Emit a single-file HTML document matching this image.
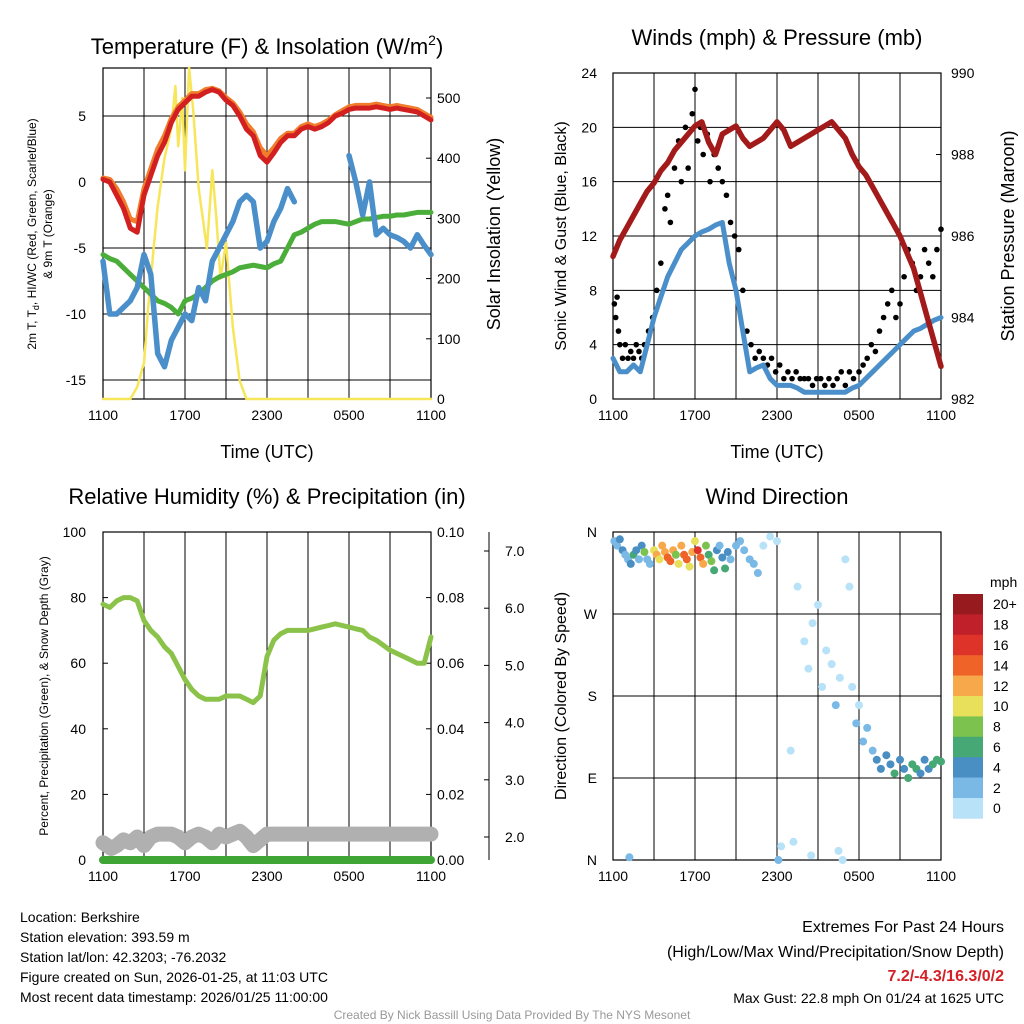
<!DOCTYPE html>
<html><head><meta charset="utf-8">
<style>
body{margin:0;background:#fff;}
svg{display:block;font-family:"Liberation Sans",sans-serif;}
</style></head>
<body>
<svg id="c" width="1024" height="1024" viewBox="0 0 1024 1024" xmlns="http://www.w3.org/2000/svg"></svg>
<script>
// ---- Data ----
const hours = [0,0.5,1,1.5,2,2.5,3,3.5,4,4.5,5,5.5,6,6.5,7,7.5,8,8.5,9,9.5,10,10.5,11,11.5,12,12.5,13,13.5,14,14.5,15,15.5,16,16.5,17,17.5,18,18.5,19,19.5,20,20.5,21,21.5,22,22.5,23,23.5,24];
const tempRed = [0.2,0,-1,-2,-3.5,-3.8,-1,0.5,2,3,4.5,5.5,6,6.5,6.5,6.8,7,6.8,6.2,5.8,5,4,3.5,2,1.5,2.2,3,3.5,3.5,4,4.2,4,4.2,4.5,5,5.2,5.5,5.6,5.6,5.6,5.7,5.6,5.5,5.6,5.5,5.4,5.3,5,4.7];
const tempOrange = [0.3,0.2,-0.5,-1.5,-2.8,-3,-0.5,1,2.5,3.5,4.8,5.7,6.2,6.7,6.7,7,7.1,6.9,6.4,6,5.3,4.4,3.8,2.6,2,2.6,3.3,3.7,3.7,4.2,4.4,4.2,4.4,4.7,5.1,5.4,5.7,5.8,5.8,5.8,5.9,5.8,5.7,5.8,5.7,5.6,5.5,5.2,4.9];
const dewGreen = [-5.5,-5.8,-6,-6.5,-7,-7.5,-8,-8.5,-9,-9.2,-9.5,-10,-9,-8.8,-8.5,-8,-7.5,-7.2,-7,-6.8,-6.5,-6.4,-6.3,-6.4,-6.5,-6.2,-6,-5,-4,-3.8,-3.5,-3.2,-3,-3,-3,-3.1,-3.2,-3,-2.8,-2.8,-2.7,-2.6,-2.6,-2.5,-2.5,-2.4,-2.3,-2.3,-2.3];
const chillBlue = [-6,-10,-10,-9.5,-9,-8,-5.5,-7,-13,-14,-12,-11,-10,-10.5,-8,-9,-6,-5,-4,-3,-1.5,-1,-1.5,-5,-4.5,-3,-2,-0.5,-1.5,null,null,null,null,null,null,null,2,0,-2.5,0,-4,-3.5,-4,-4.2,-4.5,-5,-4,-4.8,-5.5];
const insolHours = [0,2,2.5,3,3.3,3.7,4,4.5,5,5.3,5.5,5.8,6,6.3,6.6,7,7.3,7.6,8,8.3,8.6,9,9.5,10,10.5,24];
const insolation = [0,0,20,60,150,250,320,400,450,520,420,500,380,550,480,350,300,250,380,300,200,260,120,30,0,0];
const pressure = [985.5,985.9,986.2,986.5,986.8,987.1,987.3,987.6,987.8,988.1,988.3,988.5,988.7,988.8,988.3,988,988.5,988.6,988.7,988.4,988.2,988.3,988.4,988.6,988.8,988.6,988.2,988.3,988.4,988.5,988.6,988.7,988.8,988.6,988.4,988,987.7,987.5,987.2,986.9,986.6,986.3,986,985.6,985.2,984.6,984,983.4,982.8];
const windSpeed = [3,2,2,2.5,2,4,6,7.5,9,10,11,11.5,12,12.3,12.5,12.8,13,10,8,5,2,2.3,2.5,1.5,1,1,1,0.8,0.5,0.5,0.5,0.5,0.5,0.5,0.5,0.8,1,1.5,2,2.5,3,3.5,4,4.5,5,5.2,5.5,5.8,6];
const gustHours = [0.1,0.2,0.3,0.4,0.5,0.7,0.9,1.1,1.3,1.5,1.7,1.9,2.1,2.3,2.6,2.9,3.2,3.5,3.8,4,4.2,4.5,4.8,5,5.3,5.5,5.8,6,6.2,6.4,6.6,6.9,7.1,7.4,7.7,8,8.3,8.6,8.9,9.2,9.5,9.8,10.1,10.4,10.7,11,11.3,11.6,11.9,12.2,12.5,12.8,13.1,13.4,13.7,14,14.3,14.6,14.9,15.2,15.5,15.8,16.1,16.4,16.7,17,17.3,17.6,18,18.3,18.6,18.9,19.2,19.5,19.8,20.1,20.4,20.7,21,21.3,21.6,21.9,22.2,22.5,22.8,23.1,23.4,23.7,24];
const gusts = [7,6,7.5,5,4,3,4,3,3.5,3,4,3.5,3,4,5,6,8,10,14,15,13,17,19,16,20,17,21,22.8,19,20,18,19.5,16,18,17,16,15,13,12,11,8,5,4,3,3.5,3,2.5,3,2,2.5,1.5,2,1.5,2,1.5,1.5,1.5,1,1.5,1.5,1,1.5,1,1.5,2,1,2,1.5,2,2.5,3,4,3.5,5,6,7,8,6,7,9,11,10,8,9,11,10,9,11,12.5];
const rh = [78,77,79,80,80,79,73,70,68,65,63,59,55,52,50,49,49,49,50,50,50,49,48,50,62,67,69,70,70,70,70,70.5,71,71.5,72,71.5,71,70.5,70,68,67,65.5,64,63,62,61,60,60,68];
const snowHours = [0,0.3,0.6,1,1.5,2,2.5,3,3.5,4,5,5.5,6,6.5,7,7.5,8,8.5,9,9.5,10,10.5,11,11.5,12,13,24];
const snowDepth = [1.9,1.85,1.8,1.85,1.95,1.9,2.0,1.85,2.0,2.05,2.05,2.0,1.9,2.0,2.05,2.0,1.9,2.05,2.0,2.05,2.1,2.0,1.85,1.95,2.05,2.05,2.05];
const purpleHours = [3.0,3.2,6.1,12.6];
const purpleVals = [0.006,0.007,0.006,0.007];
const dirHours = [0.1,0.3,0.5,0.7,0.9,1.1,1.3,1.5,1.7,1.9,2.1,2.3,2.5,2.7,3,3.2,3.4,3.6,3.8,4,4.2,4.4,4.6,4.8,5,5.2,5.4,5.6,5.8,6,6.2,6.4,6.6,6.8,7,7.2,7.4,7.6,7.8,8,8.2,8.4,8.6,9,9.3,9.6,10,10.3,10.6,11,11.5,12,13,13.2,13.5,14,14.3,14.6,15,15.3,15.6,16,16.3,16.6,17,17.3,17.5,17.8,18,18.3,18.6,19,19.3,19.6,20,20.3,20.6,21,21.3,21.6,21.9,22.2,22.5,22.8,23.1,23.4,23.7,24,12.3,12.1,1.2,16.5,14.5,16.8];
const dirDeg = [350,345,352,340,335,330,325,335,340,330,345,338,330,325,340,335,330,345,338,332,328,340,335,325,345,335,330,322,338,350,340,332,325,345,335,328,318,340,345,332,320,338,330,345,350,340,330,325,315,345,355,350,120,20,300,240,210,260,280,190,230,215,170,200,330,300,190,150,170,130,145,120,110,100,115,105,95,110,100,90,105,100,95,110,100,105,110,108,15,0,3,10,5,0];
const dirSpeed = [3,2,4,4,2,3,4,6,4,2,5,8,3,2,10,12,11,12,13,14,15,12,9,10,13,15,14,11,12,10,16,15,13,8,7,9,6,5,3,4,6,5,3,2,2,3,2,3,2,1,1,1,1,1,1,1,1,1,0,1,1,0,2,1,1,1,1,2,1,2,3,3,4,4,5,4,6,5,4,6,7,6,4,5,4,6,6,6,1,2,2,1,1,1];
const timeTickLabels = ['1100','1700','2300','0500','1100'];
const cbLabels = ['20+','18','16','14','12','10','8','6','4','2','0'];
const cbColors = ['#971b1e','#c0202a','#dd3329','#ef6329','#f6a84a','#e8e05a','#7bc24e','#46a874','#4a8fc4','#7ab9e6','#b8e2f7'];

// ---- helpers ----
const svg = document.getElementById('c');
const NS = 'http://www.w3.org/2000/svg';
function mk(tag, attrs, parent){const e=document.createElementNS(NS,tag);for(const k in attrs)e.setAttribute(k,attrs[k]);(parent||svg).appendChild(e);return e;}
function txt(x,y,s,size,anchor,parent,rot){const t=mk('text',{x:x,y:y,'font-size':size,'text-anchor':anchor||'middle',fill:'#000'},parent);if(rot)t.setAttribute('transform','rotate('+rot+' '+x+' '+y+')');t.textContent=s;return t;}
function lin(d0,d1,r0,r1){return v=>r0+(v-d0)/(d1-d0)*(r1-r0);}
function poly(xs,ys,fx,fy,color,w,name){let segs=[],cur=[];for(let i=0;i<xs.length;i++){if(ys[i]==null){if(cur.length)segs.push(cur);cur=[];continue;}cur.push(fx(xs[i]).toFixed(1)+','+fy(ys[i]).toFixed(1));}if(cur.length)segs.push(cur);
 segs.forEach(s=>{const p=mk('polyline',{points:s.join(' '),fill:'none',stroke:color,'stroke-width':w,'stroke-linejoin':'round','stroke-linecap':'round'});
 
 });}
function frame(x0,y0,x1,y1,fx,name){
 const g=mk('g',{});
 
 
 for(let h=3;h<24;h+=3){mk('line',{x1:fx(h),x2:fx(h),y1:y0,y2:y1,stroke:'#000','stroke-width':1},g);}
 mk('rect',{x:x0,y:y0,width:x1-x0,height:y1-y0,fill:'none',stroke:'#000','stroke-width':1.2},g);
 timeTickLabels.forEach((l,i)=>{const x=fx(i*6);txt(x,y1+21,l,14,'middle',g);mk('line',{x1:x,x2:x,y1:y1,y2:y1-5,stroke:'#000'},g);});
 return g;}
function hgrid(g,vals,fy,x0,x1,grid){vals.forEach(v=>{const y=fy(v);mk('line',{x1:x0,x2:grid?x1:x0+5,y1:y,y2:y,stroke:'#000'},g);});}

// ===== Panel 1: Temperature =====
(function(){
 const x0=103,x1=431,y0=68,y1=399;
 const fx=lin(0,24,x0,x1), fy=lin(0,5,182,116), fr=lin(0,500,399,98);
 const g=frame(x0,y0,x1,y1,fx,'temperature-panel');
 const lt=[5,0,-5,-10,-15]; hgrid(g,lt,fy,x0,x1,true);
 lt.forEach(v=>txt(86,fy(v)+5,String(v),14,'end',g));
 [0,100,200,300,400,500].forEach(v=>{txt(437,fr(v)+5,String(v),14,'start',g);mk('line',{x1:x1,x2:x1-5,y1:fr(v),y2:fr(v),stroke:'#000'},g);});
 poly(insolHours,insolation,fx,fr,'#f7e55a',2.5,'insolation-line');
 poly(hours,dewGreen,fx,fy,'#4cae3a',5,'dewpoint-line');
 poly(hours,chillBlue,fx,fy,'#4a8fc9',5.5,'wind-chill-line');
 poly(hours,tempOrange,fx,fy,'#f07d2c',5,'9m-temp-line');
 poly(hours,tempRed,fx,fy,'#d22020',5,'2m-temp-line');
 const t=txt(267,54,'Temperature (F) & Insolation (W/m',22,'middle',g);
 
 const s=mk('tspan',{'font-size':14,dy:-9},t);s.textContent='2';
 const s2=mk('tspan',{dy:9},t);s2.textContent=')';
 txt(267,458,'Time (UTC)',18,'middle',g);
 const yl=txt(36,234,'2m T, T',12,'middle',g,-90);
 const sub=mk('tspan',{'font-size':9,dy:3},yl);sub.textContent='d';
 const r=mk('tspan',{dy:-3},yl);r.textContent=', HI/WC (Red, Green, Scarlet/Blue)';
 txt(52,234,'& 9m T (Orange)',12,'middle',g,-90);
 txt(500,234,'Solar Insolation (Yellow)',18,'middle',g,-90);
})();

// ===== Panel 2: Winds =====
(function(){
 const x0=613,x1=941,y0=73,y1=399;
 const fx=lin(0,24,x0,x1), fy=lin(0,24,y1,y0), fr=lin(982,990,y1,y0);
 const g=frame(x0,y0,x1,y1,fx,'winds-panel');
 const lt=[0,4,8,12,16,20,24]; hgrid(g,lt,fy,x0,x1,true);
 lt.forEach(v=>txt(597,fy(v)+5,String(v),14,'end',g));
 [982,984,986,988,990].forEach(v=>{txt(951,fr(v)+5,String(v),14,'start',g);mk('line',{x1:x1,x2:x1-5,y1:fr(v),y2:fr(v),stroke:'#000'},g);});
 poly(hours,windSpeed,fx,fy,'#4a8fc9',5,'sonic-wind-line');
 gustHours.forEach((h,i)=>{const c=mk('circle',{cx:fx(h),cy:fy(gusts[i]),r:2.8,fill:'#000'},g);
  
  });
 poly(hours,pressure,fx,fr,'#a31a1a',5.5,'pressure-line');
 txt(777,45,'Winds (mph) & Pressure (mb)',22,'middle',g);
 txt(777,458,'Time (UTC)',18,'middle',g);
 txt(566,236,'Sonic Wind & Gust (Blue, Black)',16,'middle',g,-90);
 txt(1014,236,'Station Pressure (Maroon)',18,'middle',g,-90);
})();

// ===== Panel 3: RH =====
(function(){
 const x0=103,x1=431,y0=532,y1=860;
 const fx=lin(0,24,x0,x1), fy=lin(0,100,y1,y0), fp=lin(0,0.1,y1,y0), fs=lin(2,7,837,551);
 const g=frame(x0,y0,x1,y1,fx,'humidity-panel');
 const lt=[0,20,40,60,80,100]; hgrid(g,lt,fy,x0,x1,false);
 lt.forEach(v=>txt(86,fy(v)+5,String(v),14,'end',g));
 [0,0.02,0.04,0.06,0.08,0.1].forEach(v=>{txt(437,fp(v)+5,v.toFixed(2),14,'start',g);mk('line',{x1:x1,x2:x1-5,y1:fp(v),y2:fp(v),stroke:'#000'},g);});
 mk('line',{x1:489,x2:489,y1:y0,y2:y1,stroke:'#000'},g);
 [2,3,4,5,6,7].forEach(v=>{txt(505,fs(v)+5,v.toFixed(1),14,'start',g);mk('line',{x1:489,x2:484,y1:fs(v),y2:fs(v),stroke:'#000'},g);});
 poly(snowHours,snowDepth,fx,fs,'#b0b0b0',15,'snow-depth-line');
 poly([0,24],[0,0],fx,fp,'#3fa535',8,'precip-line');
 purpleHours.forEach((h,i)=>{const e=mk('ellipse',{cx:fx(h),cy:fp(purpleVals[i]),rx:3.5,ry:2.2,fill:'#a020f0'},g);
  
  });
 poly(hours,rh,fx,fy,'#8bc34a',5,'rh-line');
 txt(267,504,'Relative Humidity (%) & Precipitation (in)',22,'middle',g);
 txt(48,696,'Percent, Precipitation (Green), & Snow Depth (Gray)',12,'middle',g,-90);
})();

// ===== Panel 4: Wind Direction =====
(function(){
 const x0=613,x1=941,y0=532,y1=860;
 const fx=lin(0,24,x0,x1), fy=lin(0,360,y1,y0);
 const g=frame(x0,y0,x1,y1,fx,'wind-direction-panel');
 const dl=[[360,'N'],[270,'W'],[180,'S'],[90,'E'],[0,'N']];
 dl.forEach(d=>{const y=fy(d[0]);mk('line',{x1:x0,x2:x1,y1:y,y2:y,stroke:'#000'},g);txt(597,y+5,d[1],14,'end',g);});
 function col(s){let b=Math.min(10,Math.floor(s/2));return cbColors[10-b];}
 dirHours.forEach((h,i)=>{const c=mk('circle',{cx:fx(h),cy:fy(dirDeg[i]),r:4,fill:col(dirSpeed[i])},g);
  
  });
 txt(777,504,'Wind Direction',22,'middle',g);
 txt(566,696,'Direction (Colored By Speed)',16,'middle',g,-90);
 const cb=mk('g',{});
 
 
 const bh=20.4;
 cbColors.forEach((c,i)=>{mk('rect',{x:953,y:594+i*bh,width:30,height:bh+0.3,fill:c},cb);txt(993,594+i*bh+bh/2+5,cbLabels[i],14,'start',cb);});
 txt(990,587,'mph',14,'start',cb);
})();

// ===== Footer =====
(function(){
 const g=mk('g',{});
 
 
 ['Location: Berkshire','Station elevation: 393.59 m','Station lat/lon: 42.3203; -76.2032','Figure created on Sun, 2026-01-25, at 11:03 UTC','Most recent data timestamp: 2026/01/25 11:00:00'].forEach((s,i)=>txt(20,922+i*20,s,14,'start',g));
 const e=mk('g',{});
 
 
 txt(1004,932,'Extremes For Past 24 Hours',16,'end',e);
 txt(1004,957,'(High/Low/Max Wind/Precipitation/Snow Depth)',16,'end',e);
 const r=txt(1004,981,'7.2/-4.3/16.3/0/2',16,'end',e);r.setAttribute('fill','#d42027');r.setAttribute('font-weight','bold');
 txt(1004,1003,'Max Gust: 22.8 mph On 01/24 at 1625 UTC',14,'end',e);
 const c=txt(512,1019,'Created By Nick Bassill Using Data Provided By The NYS Mesonet',12,'middle');c.setAttribute('fill','#999');
 
 
})();
</script>
</body></html>
